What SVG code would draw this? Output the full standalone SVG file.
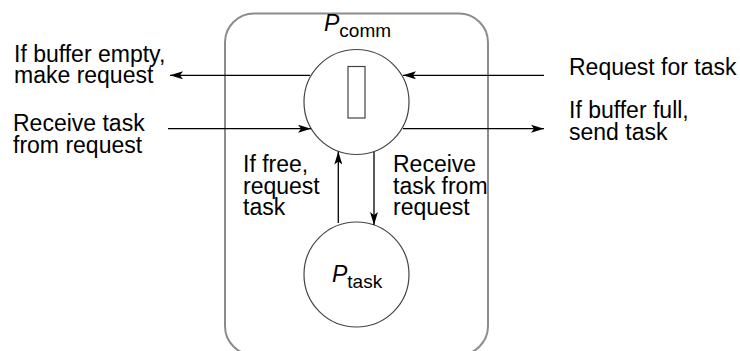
<svg xmlns="http://www.w3.org/2000/svg" width="740" height="351" viewBox="0 0 740 351">
<style>
text{font-family:"Liberation Sans",Arial,sans-serif;font-size:23px;fill:#000}
.sub{font-size:19px}
.it{font-style:italic}
.node{fill:#fff;stroke:#444;stroke-width:1.2}
.edge{stroke:#000;stroke-width:1.3;fill:none;marker-end:url(#ah)}
</style>
<defs>
<marker id="ah" markerUnits="userSpaceOnUse" markerWidth="14" markerHeight="8" refX="13" refY="4" orient="auto">
<path d="M0,0 L13,4 L0,8 L3,4 Z" fill="#000"/>
</marker>
</defs>
<rect id="container" x="225" y="13.5" width="263" height="341.5" rx="29" ry="29" fill="none" stroke="#8c8c8c" stroke-width="2"/>
<g id="pcomm">
<circle class="node" cx="356.5" cy="102" r="52.5"/>
<rect x="348" y="66.5" width="17" height="51.5" fill="#fff" stroke="#444" stroke-width="1.2"/>
<text x="324" y="31" class="it" font-size="21">P<tspan class="sub" font-style="normal" dy="6">comm</tspan></text>
</g>
<g id="ptask">
<circle class="node" cx="356.5" cy="274.5" r="52.5"/>
<text x="332" y="282" class="it" font-size="21">P<tspan class="sub" font-style="normal" dy="6">task</tspan></text>
</g>
<g id="connectors">
<line class="edge" x1="310" y1="75.3" x2="170" y2="75.3"/>
<line class="edge" x1="168" y1="128.7" x2="311" y2="128.7"/>
<line class="edge" x1="544" y1="75.3" x2="403" y2="75.3"/>
<line class="edge" x1="403" y1="128.7" x2="544" y2="128.7"/>
<line class="edge" x1="338.3" y1="223" x2="338.3" y2="151.5"/>
<line class="edge" x1="374" y1="152" x2="374" y2="225"/>
</g>
<g id="labels">
<text x="14" y="61.5">If buffer empty,</text>
<text x="14" y="83">make request</text>
<text x="13" y="130.5">Receive task</text>
<text x="13" y="152.5">from request</text>
<text x="569" y="75">Request for task</text>
<text x="569" y="118">If buffer full,</text>
<text x="569" y="139.5">send task</text>
<text x="243" y="172">If free,</text>
<text x="243" y="193.5">request</text>
<text x="243" y="215">task</text>
<text x="393" y="172">Receive</text>
<text x="393" y="193.5">task from</text>
<text x="393" y="215">request</text>
</g>
</svg>
